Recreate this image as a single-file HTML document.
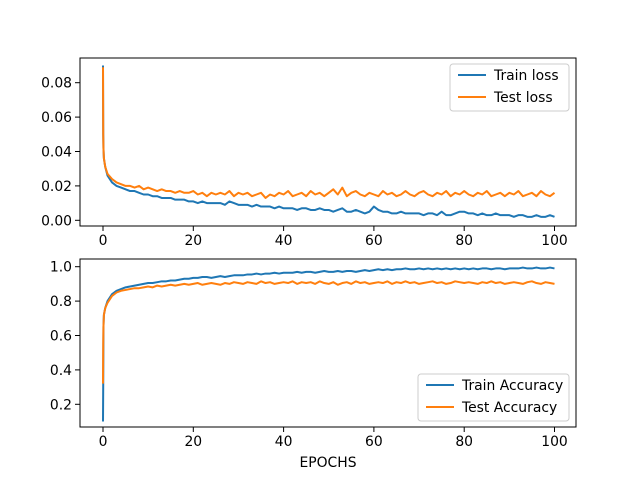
<!DOCTYPE html>
<html><head><meta charset="utf-8"><style>
body{margin:0;background:#fff}
svg{display:block;font-family:"DejaVu Sans","Liberation Sans",sans-serif}
</style></head><body>
<svg id="fig" width="640" height="480" viewBox="0 0 640 480" xmlns="http://www.w3.org/2000/svg">
<rect width="640" height="480" fill="#fff"/>
</svg>
<script>
const epochs=[0,0.05,0.1,0.2,0.5];
for(let i=1;i<=100;i++)epochs.push(i);
const trainLoss=[.090,.050,.042,.036,.031,
.026,.022,.020,.019,.018,.017,.017,.016,.015,.015,
.014,.014,.013,.013,.013,.012,.012,.012,.011,.011,
.010,.011,.010,.010,.010,.010,.009,.011,.010,.009,
.009,.009,.008,.009,.008,.008,.008,.007,.008,.007,
.007,.007,.006,.007,.007,.006,.006,.007,.006,.006,
.005,.006,.007,.005,.005,.006,.005,.004,.005,.008,
.006,.005,.005,.004,.004,.005,.004,.004,.004,.004,
.003,.004,.004,.003,.005,.003,.003,.004,.005,.005,
.004,.004,.003,.004,.003,.003,.004,.003,.003,.003,
.002,.003,.003,.002,.002,.003,.002,.002,.003,.002];
const testLoss=[.089,.050,.042,.036,.031,
.027,.024,.022,.021,.020,.020,.019,.020,.018,.019,
.018,.017,.018,.017,.017,.016,.017,.016,.016,.017,
.015,.016,.014,.016,.015,.016,.015,.017,.014,.016,
.015,.016,.014,.015,.016,.013,.015,.014,.016,.015,
.017,.014,.015,.016,.014,.017,.015,.016,.014,.016,
.018,.015,.019,.014,.016,.017,.015,.014,.016,.015,
.014,.017,.015,.016,.014,.015,.017,.015,.014,.016,
.017,.015,.014,.016,.015,.017,.014,.016,.015,.017,
.015,.014,.016,.015,.017,.014,.015,.016,.014,.016,
.015,.017,.014,.015,.016,.014,.017,.015,.014,.016];
const trainAcc=[.10,.32,.65,.72,.76,
.80,.84,.86,.87,.88,.885,.89,.895,.90,.905,
.905,.91,.915,.915,.92,.92,.925,.93,.93,.935,
.935,.94,.94,.935,.94,.945,.94,.945,.95,.95,
.95,.955,.955,.96,.955,.96,.96,.965,.96,.965,
.965,.965,.97,.965,.97,.97,.965,.97,.975,.97,
.97,.975,.97,.975,.975,.97,.975,.98,.975,.98,
.985,.98,.985,.98,.985,.985,.99,.985,.985,.99,
.985,.99,.985,.99,.985,.99,.985,.99,.985,.99,
.985,.99,.985,.99,.99,.985,.99,.99,.985,.99,
.99,.99,.995,.99,.99,.995,.99,.99,.995,.99];
const testAcc=[.32,.55,.65,.72,.76,
.79,.83,.85,.86,.865,.87,.875,.875,.88,.885,
.88,.89,.885,.89,.895,.89,.895,.90,.895,.90,
.905,.895,.90,.905,.90,.895,.905,.90,.91,.905,
.90,.91,.905,.90,.915,.905,.91,.90,.905,.91,
.905,.915,.90,.91,.905,.91,.90,.915,.905,.90,
.91,.895,.905,.91,.90,.915,.905,.91,.90,.905,
.91,.905,.915,.90,.91,.905,.915,.905,.91,.90,
.905,.91,.915,.905,.91,.90,.905,.915,.91,.905,
.91,.905,.90,.91,.905,.915,.905,.91,.90,.905,
.91,.905,.90,.91,.915,.905,.90,.91,.905,.90];
const xTicks=[0,20,40,60,80,100];
const lossTicks=[0,0.02,0.04,0.06,0.08];
const accTicks=[0.2,0.4,0.6,0.8,1.0];

const NS="http://www.w3.org/2000/svg";
const svg=document.getElementById('fig');
function mk(tag,attrs,parent){const e=document.createElementNS(NS,tag);for(const k in attrs)e.setAttribute(k,attrs[k]);(parent||svg).appendChild(e);return e;}
const X=v=>103+v*4.515;
function panel(name,top,bottom,yfun,yTicks,fmt,series,legend){
  const g=mk('g',{});
  
  
  series.forEach(s=>{
    const p=mk('polyline',{points:epochs.map((e,i)=>X(e).toFixed(2)+','+yfun(s.data[i]).toFixed(2)).join(' '),fill:'none',stroke:s.color,'stroke-width':2,'stroke-linejoin':'round'},g);
    
    
  });
  const fr=mk('rect',{x:80,y:top,width:496,height:bottom-top,fill:'none',stroke:'#000','stroke-width':1},g);
  
  
  xTicks.forEach(t=>{
    mk('line',{x1:X(t),x2:X(t),y1:bottom,y2:bottom+5,stroke:'#000'},g);
    const tx=mk('text',{x:X(t),y:bottom+19,'font-size':13.9,'text-anchor':'middle',fill:'#000'},g);
    tx.textContent=t;
    
    
  });
  yTicks.forEach(t=>{
    const y=yfun(t);
    mk('line',{x1:75,x2:80,y1:y,y2:y,stroke:'#000'},g);
    const tx=mk('text',{x:72,y:y+5,'font-size':13.9,'text-anchor':'end',fill:'#000'},g);
    tx.textContent=fmt(t);
    
    
  });
  const lg=mk('g',{},g);
  
  
  mk('rect',{x:legend.x,y:legend.y,width:legend.w,height:47,rx:3,fill:'#fff','fill-opacity':0.8,stroke:'#ccc'},lg);
  series.forEach((s,i)=>{
    const yy=legend.y+11+i*22;
    mk('line',{x1:legend.x+8,x2:legend.x+36,y1:yy,y2:yy,stroke:s.color,'stroke-width':2},lg);
    const t=mk('text',{x:legend.x+44,y:yy+5,'font-size':13.9,fill:'#000'},lg);
    t.textContent=s.label;
    
    
  });
}
const yLoss=v=>220.3-v*1720;
const yAcc=v=>266.7+(1-v)*172;
panel('loss-panel',58,226,yLoss,lossTicks,t=>t.toFixed(2),
 [{name:'train-loss-line',data:trainLoss,color:'#1f77b4',label:'Train loss'},
  {name:'test-loss-line',data:testLoss,color:'#ff7f0e',label:'Test loss'}],
 {x:450,y:64,w:119});
panel('accuracy-panel',259,427,yAcc,accTicks,t=>t.toFixed(1),
 [{name:'train-accuracy-line',data:trainAcc,color:'#1f77b4',label:'Train Accuracy'},
  {name:'test-accuracy-line',data:testAcc,color:'#ff7f0e',label:'Test Accuracy'}],
 {x:418,y:374,w:151});
const xl=mk('text',{x:328,y:467,'font-size':13.9,'text-anchor':'middle',fill:'#000'});
xl.textContent='EPOCHS';


</script>
</body></html>
